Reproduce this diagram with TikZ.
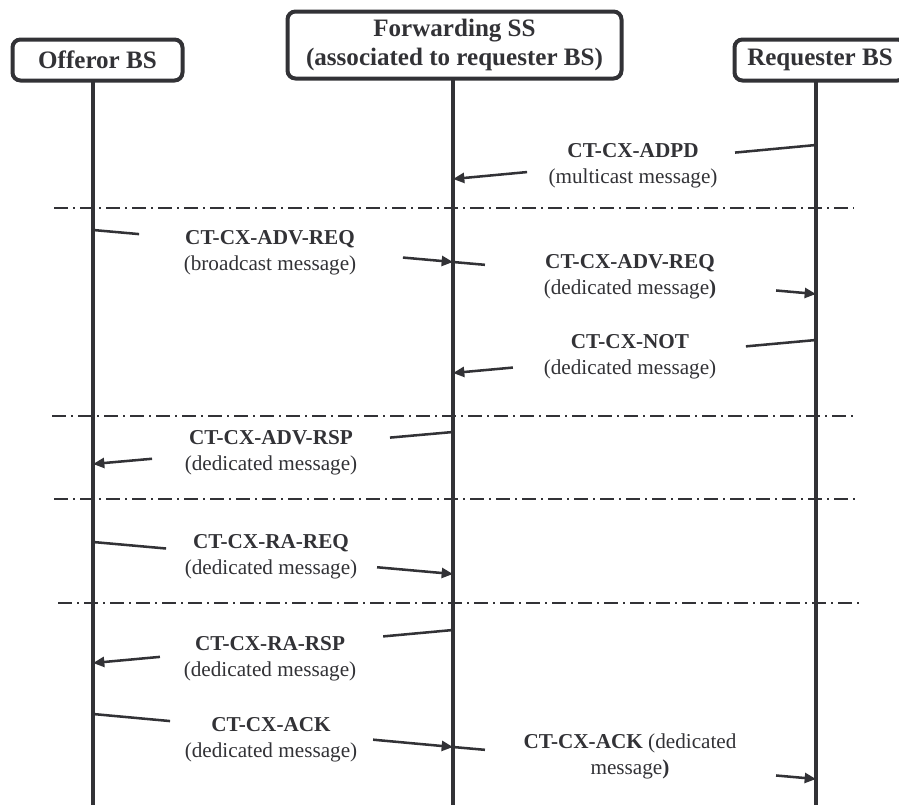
\documentclass[tikz,border=0pt]{standalone}
\usepackage{fontspec}
\setmainfont{Liberation Serif}
\usetikzlibrary{arrows.meta,calc}
\definecolor{ink}{RGB}{50,50,54}
\begin{document}
\begin{tikzpicture}[x=0.75pt,y=-0.75pt,
  hdr/.style={draw=ink, line width=3pt, rounded corners=6pt, text=ink,
    font=\fontsize{18.8}{22}\selectfont\bfseries, align=center, inner sep=0pt, fill=white},
  lbl/.style={text=ink, font=\fontsize{15.9}{19.5}\selectfont, align=center, inner sep=0pt},
  life/.style={draw=ink, line width=2.3pt},
  msg/.style={draw=ink, line width=1.9pt},
  arr/.style={msg, -{Triangle[length=8.5pt,width=7.5pt]}},
  sepline/.style={draw=ink, line width=1.8pt, dash pattern=on 10.5pt off 3.75pt on 1.5pt off 3.75pt}]
\useasboundingbox (0,0) rectangle (899,807);

% lifelines
\coordinate (offtop) at (93,82);  \coordinate (offbot) at (93,805);
\coordinate (fwdtop) at (453,80); \coordinate (fwdbot) at (453,805);
\coordinate (reqtop) at (816,82); \coordinate (reqbot) at (816,805);
\draw[life] (offtop) -- (offbot);
\draw[life] (fwdtop) -- (fwdbot);
\draw[life] (reqtop) -- (reqbot);

% header boxes
\node[hdr, minimum width=127.5pt, minimum height=30.75pt] (off) at (97.5,60) {Offeror BS};
\node[hdr, minimum width=250.5pt, minimum height=50.25pt] (fwd) at (454.5,45) {Forwarding SS\\(associated to requester BS)};
\node[hdr, minimum width=128.25pt, minimum height=30.75pt] (req) at (820,60) {Requester BS};

% separators
\draw[sepline] (54,208) -- (854,208);
\draw[sepline] (52,416) -- (853,416);
\draw[sepline] (54,499) -- (855,499);
\draw[sepline] (58,603) -- (859,603);

% message end points on lifelines
\coordinate (r1) at (816,145); \coordinate (s1) at (453,179);
\coordinate (o2) at (93,230);  \coordinate (s2) at (453,262); \coordinate (r2) at (816,294);
\coordinate (r3) at (816,340); \coordinate (s3) at (453,373);
\coordinate (s4) at (453,432); \coordinate (o4) at (93,464);
\coordinate (o5) at (93,542);  \coordinate (s5) at (453,574);
\coordinate (s6) at (453,630); \coordinate (o6) at (93,663);
\coordinate (o7) at (93,714);  \coordinate (s7) at (453,747); \coordinate (r7) at (816,779);

% messages
\draw[msg] (r1) -- ($(r1)!0.223!(s1)$);
\draw[arr] ($(r1)!0.796!(s1)$) -- (s1);
\node[lbl] (m1) at (633,166) {\textbf{CT-CX-ADPD}\\(multicast message)};

\draw[msg] (o2) -- ($(o2)!0.128!(s2)$);
\draw[arr] ($(o2)!0.861!(s2)$) -- (s2);
\node[lbl] (m2) at (270,253) {\textbf{CT-CX-ADV-REQ}\\(broadcast message)};
\draw[msg] (s2) -- ($(s2)!0.088!(r2)$);
\draw[arr] ($(s2)!0.89!(r2)$) -- (r2);
\node[lbl] (m2b) at (630,277) {\textbf{CT-CX-ADV-REQ}\\(dedicated message\textbf{)}};

\draw[msg] (r3) -- ($(r3)!0.193!(s3)$);
\draw[arr] ($(r3)!0.835!(s3)$) -- (s3);
\node[lbl] (m3) at (630,357) {\textbf{CT-CX-NOT}\\(dedicated message)};

\draw[msg] (s4) -- ($(s4)!0.175!(o4)$);
\draw[arr] ($(s4)!0.836!(o4)$) -- (o4);
\node[lbl] (m4) at (271,453) {\textbf{CT-CX-ADV-RSP}\\(dedicated message)};

\draw[msg] (o5) -- ($(o5)!0.203!(s5)$);
\draw[arr] ($(o5)!0.789!(s5)$) -- (s5);
\node[lbl] (m5) at (271,557) {\textbf{CT-CX-RA-REQ}\\(dedicated message)};

\draw[msg] (s6) -- ($(s6)!0.194!(o6)$);
\draw[arr] ($(s6)!0.814!(o6)$) -- (o6);
\node[lbl] (m6) at (270,659) {\textbf{CT-CX-RA-RSP}\\(dedicated message)};

\draw[msg] (o7) -- ($(o7)!0.214!(s7)$);
\draw[arr] ($(o7)!0.778!(s7)$) -- (s7);
\node[lbl] (m7) at (271,740) {\textbf{CT-CX-ACK}\\(dedicated message)};
\draw[msg] (s7) -- ($(s7)!0.088!(r7)$);
\draw[arr] ($(s7)!0.89!(r7)$) -- (r7);
\node[lbl] (m7b) at (630,756) {\textbf{CT-CX-ACK} (dedicated\\message\textbf{)}};
\end{tikzpicture}
\end{document}
